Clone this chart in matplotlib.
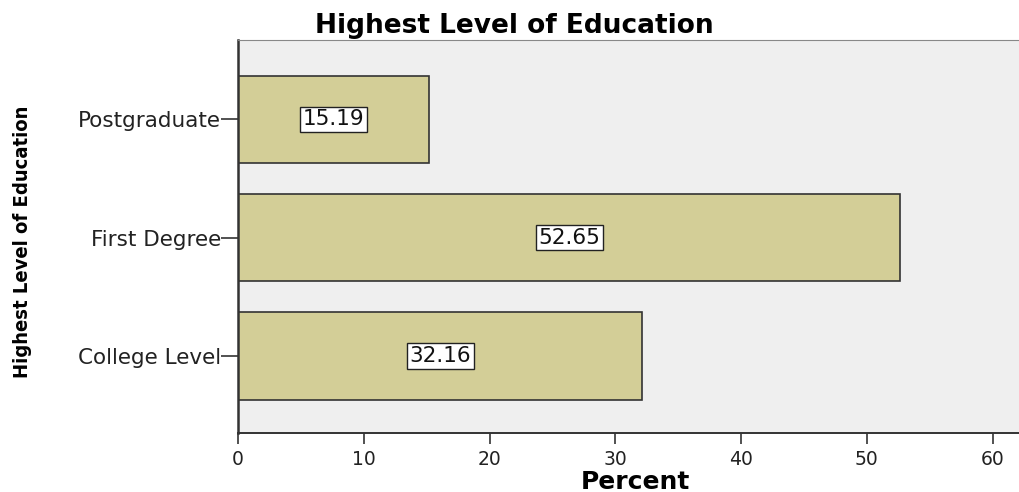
import matplotlib
matplotlib.use("Agg")
import matplotlib.pyplot as plt

# Frequencies for education level (percent)
categorias = ["College Level", "First Degree", "Postgraduate"]
porcentajes = [32.16, 52.65, 15.19]
xticks = [0, 10, 20, 30, 40, 50, 60]

COLOR_BARRA = "#D3CE97"
COLOR_FONDO = "#EFEFEF"

fig = plt.figure(figsize=(10.19, 4.92), dpi=100)
ax = fig.add_axes([238 / 1019, 1 - 433 / 492, (1019 - 238) / 1019, (433 - 40) / 492])
ax.set_facecolor(COLOR_FONDO)

pos = list(range(len(categorias)))
ax.barh(pos, porcentajes, height=0.74, color=COLOR_BARRA, edgecolor="#333333", linewidth=1.2)

for y, v in zip(pos, porcentajes):
    ax.text(v / 2, y, f"{v:.2f}", ha="center", va="center", fontsize=15.5,
            family="DejaVu Sans", color="#111111",
            bbox=dict(boxstyle="square,pad=0.12", facecolor="white", edgecolor="#222222", linewidth=1))

ax.set_xlim(0, 62.1)
ax.set_ylim(-0.65, 2.67)
ax.set_xticks(xticks)
ax.set_xticklabels([str(t) for t in xticks], fontsize=13.5, family="DejaVu Sans", color="#222222")
ax.set_yticks(pos)
ax.set_yticklabels(categorias, fontsize=15.5, family="DejaVu Sans", color="#222222")
ax.tick_params(axis="x", direction="out", length=8, width=1.2, color="#333333", pad=4)
ax.tick_params(axis="y", direction="out", length=12, width=1.2, color="#333333", pad=0)

ax.spines["right"].set_visible(False)
ax.spines["top"].set_color("#888888")
ax.spines["left"].set_color("#333333")
ax.spines["left"].set_linewidth(1.8)
ax.spines["bottom"].set_color("#333333")
ax.spines["bottom"].set_linewidth(1.4)

fig.text(635 / 1019, 1 - 482 / 492, "Percent", ha="center", va="center",
         fontsize=18, fontweight="bold", family="DejaVu Sans")
fig.text(514 / 1019, 1 - 26 / 492, "Highest Level of Education", ha="center", va="center",
         fontsize=19, fontweight="bold", family="DejaVu Sans")
fig.text(23 / 1019, 1 - 242 / 492, "Highest Level of Education", rotation=90, ha="center", va="center",
         fontsize=14.5, fontweight="bold", fontstretch="condensed", family="DejaVu Sans")

fig.savefig("out.png", dpi=100)
